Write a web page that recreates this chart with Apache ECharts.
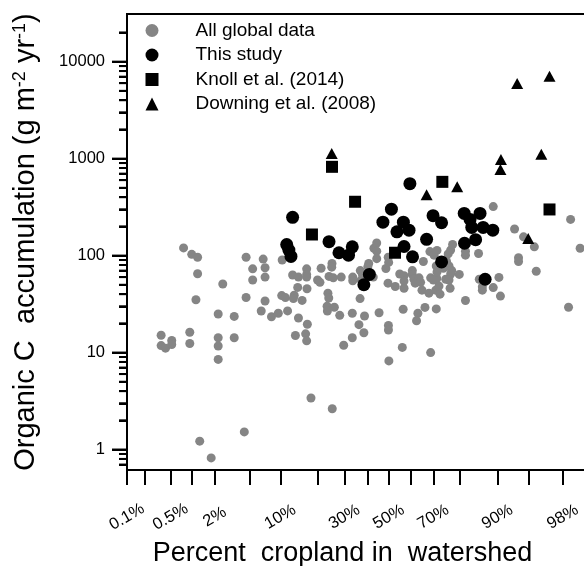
<!DOCTYPE html>
<html>
<head>
<meta charset="utf-8">
<script src="https://cdn.jsdelivr.net/npm/echarts@6/dist/echarts.min.js"></script>
<style>
  html, body { margin: 0; padding: 0; background: #fff; }
  #chart { width: 584px; height: 566px; }
</style>
</head>
<body>
<div id="chart"></div>
<script>
// percent cropland in watershed (x) and organic C accumulation, g m-2 yr-1 (y)
const globalPct = [0.77, 1.0, 1.2, 1.2, 1.14, 2.5, 4.6, 5.4, 5.4, 6.9, 7.2, 7.2, 4.6, 7.2, 2.2, 3.4,
  0.36, 0.36, 0.42, 0.52, 0.52, 0.94, 0.94, 2.2, 2.2, 2.2, 3.4, 1.28, 1.8, 4.4,
  10.4, 6.6, 8.3, 9.6, 11.6, 12.8, 14.3, 16.6, 16.6, 16.6, 14.1, 16.7, 10.3, 11.1, 13.2, 13.0,
  15.3, 14.3, 16.8, 13.5, 16.3, 16.6, 17.9, 25.2, 21.2, 20.0, 20.8, 24.0, 25.1, 25.0, 25.6,
  23.6, 23.9, 23.3, 23.4, 26.0, 28.1, 28.7, 29.7, 33.3, 33.3, 36.2, 38.4, 38.7, 36.7, 33.5,
  33.5, 36.8, 37.7, 37.2, 40.6, 40.2, 42.7, 43.0, 44.3, 44.3, 44.3, 45.4, 48.6, 49.7, 49.9,
  49.6, 53.0, 49.8, 49.8, 50.0, 55.1, 57.1, 57.1, 57.1, 56.7, 56.3, 60.9, 60.9, 61.6, 62.2,
  63.9, 64.6, 65.2, 63.4, 62.8, 66.5, 65.8, 68.2, 68.9, 70.0, 71.4, 71.0, 72.3, 72.7, 71.2,
  68.9, 68.6, 71.5, 70.3, 75.8, 76.7, 77.4, 75.2, 76.1, 77.1, 76.7, 74.9, 76.1, 79.7, 74.0,
  81.7, 81.7, 85.5, 81.7, 85.7, 86.5, 89.1, 90.3, 90.6, 89.1, 93.1, 93.7, 93.7, 94.4, 95.7,
  95.9, 98.4, 98.8, 98.3, 86.5, 71.2, 71.5, 76.5];
const globalOC = [120, 103, 96, 65, 35, 51, 96, 73, 56, 92, 75, 60, 37, 34, 25, 23.6,
  15.1, 11.8, 11.1, 13.3, 12.1, 16.2, 12.4, 14.2, 11.7, 8.5, 14.2, 1.22, 0.82, 1.52,
  90, 26.8, 23.4, 25.4, 26.9, 63, 60, 73, 64, 60, 47, 45.5, 38.7, 36.9, 39, 36,
  34.5, 22.7, 19.6, 15, 15.6, 13.2, 3.4, 2.63, 74, 56, 53, 61, 83, 76, 59,
  41, 36.5, 30, 26.8, 29.3, 24.2, 60, 11.9, 14.2, 25.4, 19.4, 16, 23.8, 36, 60,
  55, 70, 64.5, 56, 83, 77, 60, 119, 135, 111, 93, 25.7, 73.5, 96, 85,
  52, 48, 19, 17.1, 8.2, 64.5, 62, 54.6, 46, 28, 11.3, 70, 64, 57, 52,
  59, 53, 44, 25.4, 21.3, 29.2, 87, 41, 59, 56, 58, 44, 48.5, 40, 28.2,
  10, 110, 113, 101, 104, 114, 130, 87, 78, 70, 64.5, 57, 56, 64, 74,
  111, 101, 105, 34.4, 57, 47.7, 46.8, 59.6, 38.2, 320, 188, 95, 87, 156, 123,
  69, 236, 119, 29.3, 44, 78, 67.6, 46];

const studyPct = [12.8, 11.4, 11.9, 12.4, 24.0, 27.8, 31.7, 33.3, 40.9, 38.4, 51.2, 47.2, 53.8,
  56.8, 59.4, 57.1, 61.0, 59.8, 67.2, 69.9, 73.3, 73.3, 81.3, 83.1, 85.9, 83.6, 86.7, 89.0,
  84.7, 81.4, 87.2];
const studyOC = [248, 130, 114, 98, 139, 107, 101, 123, 64, 50, 301, 221, 176,
  221, 183, 124, 97, 552, 147, 258, 218, 86, 272, 236, 272, 195, 195, 183,
  146, 134, 57];

const knollPct = [25.1, 34.5, 18.2, 52.9, 73.6, 97.1];
const knollOC = [823, 359, 165, 107, 576, 299];

const downingPct = [25.0, 67.2, 79.0, 90.7, 90.6, 96.4, 95.0, 93.5, 97.1];
const downingOC = [1132, 425, 512, 982, 774, 1112, 150, 5960, 7090];

// axis ticks
const xTickPct = [0.1, 0.2, 0.5, 1, 2, 5, 10, 20, 30, 40, 50, 60, 70, 80, 90, 95, 98];
const xLabelPct = [0.1, 0.5, 2, 10, 30, 50, 70, 90, 98];
const yLabelVals = [1, 10, 100, 1000, 10000];
const yMinorVals = [0.7, 0.8, 0.9, 2, 3, 4, 5, 6, 7, 8, 9, 20, 30, 40, 50, 60, 70, 80, 90,
  200, 300, 400, 500, 600, 700, 800, 900, 2000, 3000, 4000, 5000, 6000, 7000, 8000, 9000, 20000];

// inverse normal cdf (Acklam), used for the probability x scale
const probit = (p) => {
  const a = [-39.69683028665376, 220.9460984245205, -275.9285104469687, 138.3577518672690, -30.66479806614716, 2.506628277459239];
  const b = [-54.47609879822406, 161.5858368580409, -155.6989798598866, 66.80131188771972, -13.28068155288572];
  const c = [-0.007784894002430293, -0.3223964580411365, -2.400758277161838, -2.549732539343734, 4.374664141464968, 2.938163982698783];
  const d = [0.007784695709041462, 0.3224671290700398, 2.445134137142996, 3.754408661907416];
  const pl = 0.02425;
  let q, r;
  if (p < pl) {
    q = Math.sqrt(-2 * Math.log(p));
    return (((((c[0] * q + c[1]) * q + c[2]) * q + c[3]) * q + c[4]) * q + c[5]) / ((((d[0] * q + d[1]) * q + d[2]) * q + d[3]) * q + 1);
  }
  if (p > 1 - pl) {
    q = Math.sqrt(-2 * Math.log(1 - p));
    return -(((((c[0] * q + c[1]) * q + c[2]) * q + c[3]) * q + c[4]) * q + c[5]) / ((((d[0] * q + d[1]) * q + d[2]) * q + d[3]) * q + 1);
  }
  q = p - 0.5;
  r = q * q;
  return (((((a[0] * r + a[1]) * r + a[2]) * r + a[3]) * r + a[4]) * r + a[5]) * q / (((((b[0] * r + b[1]) * r + b[2]) * r + b[3]) * r + b[4]) * r + 1);
};
const pz = (pct) => probit(pct / 100);
const pairs = (xs, ys) => xs.map((x, i) => [pz(x), ys[i]]);

const font = "Liberation Sans, Arial, sans-serif";
const black = "#000";
const xMin = pz(0.1), xMax = pz(99);
const yMin = 0.615, yMax = 31000;

// y tick marks on a linear axis of log10 values, shifted left and drawn inward to the plot edge
const yTickAxis = (vals, len) => ({
  type: "value", min: Math.log10(yMin), max: Math.log10(yMax),
  position: "left", offset: len,
  axisLine: { show: false, onZero: false },
  axisTick: { show: true, inside: true, length: len, lineStyle: { color: black, width: 2 }, customValues: vals.map(Math.log10) },
  axisLabel: { show: false },
  splitLine: { show: false },
});

// same tick marks drawn as a custom series placed by the log y scale
const yTickSeries = (vals, len) => ({
  type: "custom",
  name: "All global data",
  silent: true,
  clip: false,
  z: 10,
  data: vals.map((v) => [xMin, v]),
  renderItem: (params, api) => {
    const p = api.coord([api.value(0), api.value(1)]);
    return {
      type: "line",
      shape: { x1: p[0] - len, y1: p[1], x2: p[0], y2: p[1] },
      style: { stroke: black, lineWidth: 2 },
    };
  },
});

const chart = echarts.init(document.getElementById("chart"));

const option = {
  animation: false,
  backgroundColor: "#fff",
  textStyle: { fontFamily: font, color: black },
  grid: {
    left: 127, right: -2, top: 14, bottom: 96,
    show: true, borderColor: black, borderWidth: 2,
    outerBoundsMode: "none",
  },
  // y-axis title, rotated
  graphic: [
    {
      type: "text",
      x: 25.5, y: 242,
      rotation: Math.PI / 2,
      style: {
        text: "Organic C  accumulation (g m{sup|-2} yr{sup|-1})",
        fontFamily: font, fontSize: 29, fill: black,
        align: "center", verticalAlign: "middle",
        rich: { sup: { fontFamily: font, fontSize: 18, fill: black, verticalAlign: "top", lineHeight: 29 } },
      },
    },
  ],
  legend: {
    orient: "vertical",
    left: 145.5, top: 21,
    padding: 0,
    itemWidth: 13, itemHeight: 13, itemGap: 5.5,
    textStyle: { fontFamily: font, fontSize: 19, color: black, lineHeight: 19, padding: [0, 0, 0, 32] },
    data: [
      { name: "All global data", icon: "circle" },
      { name: "This study", icon: "circle" },
      { name: "Knoll et al. (2014)", icon: "rect" },
      { name: "Downing et al. (2008)", icon: "triangle" },
    ],
  },
  xAxis: [
    {
      type: "value",
      min: xMin, max: xMax,
      position: "bottom",
      name: "Percent  cropland in  watershed",
      nameLocation: "middle",
      nameGap: 70,
      nameMoveOverlap: false,
      nameTextStyle: { fontFamily: font, fontSize: 27, color: black, padding: [0, 28, 0, 0] },
      axisLine: { show: true, onZero: false, lineStyle: { color: black, width: 2 } },
      axisTick: { show: false },
      axisLabel: {
        customValues: xLabelPct.map(pz),
        rotate: 30, align: "center", verticalAlign: "middle", margin: 47,
        fontFamily: font, fontSize: 16.5, color: black,
        formatter: (v) => {
          const hit = xLabelPct.find((p) => Math.abs(pz(p) - v) < 1e-6);
          return hit === undefined ? "" : hit + "%";
        },
      },
      splitLine: { show: false },
    },
    {
      type: "value",
      min: xMin, max: xMax,
      position: "bottom",
      axisLine: { show: false, onZero: false },
      axisTick: {
        show: true, inside: false, length: 15,
        lineStyle: { color: black, width: 2 },
        customValues: xTickPct.map(pz),
      },
      axisLabel: { show: false },
      splitLine: { show: false },
    },
  ],
  yAxis: [
    {
      type: "log", logBase: 10,
      min: yMin, max: yMax,
      position: "left",
      axisLine: { show: true, onZero: false, lineStyle: { color: black, width: 2 } },
      axisTick: { show: false },
      axisLabel: {
        customValues: yLabelVals,
        margin: 22,
        fontFamily: font, fontSize: 16.5, color: black,
        formatter: (v) => String(Math.round(v)),
      },
      splitLine: { show: false },
    },
    yTickAxis(yLabelVals, 15),
    yTickAxis(yMinorVals, 8),
  ],
  series: [
    {
      name: "All global data", type: "scatter",
      symbol: "circle", symbolSize: 9,
      itemStyle: { color: "#858585", opacity: 1 },
      data: pairs(globalPct, globalOC),
    },
    {
      name: "This study", type: "scatter",
      symbol: "circle", symbolSize: 13,
      itemStyle: { color: black, opacity: 1 },
      data: pairs(studyPct, studyOC),
    },
    {
      name: "Knoll et al. (2014)", type: "scatter",
      symbol: "rect", symbolSize: 12,
      itemStyle: { color: black, opacity: 1 },
      data: pairs(knollPct, knollOC),
    },
    {
      name: "Downing et al. (2008)", type: "scatter",
      symbol: "triangle", symbolSize: [12, 11],
      itemStyle: { color: black, opacity: 1 },
      data: pairs(downingPct, downingOC),
    },
    yTickSeries(yLabelVals, 15),
    yTickSeries(yMinorVals, 8),
  ],
};

chart.setOption(option);
</script>
</body>
</html>
